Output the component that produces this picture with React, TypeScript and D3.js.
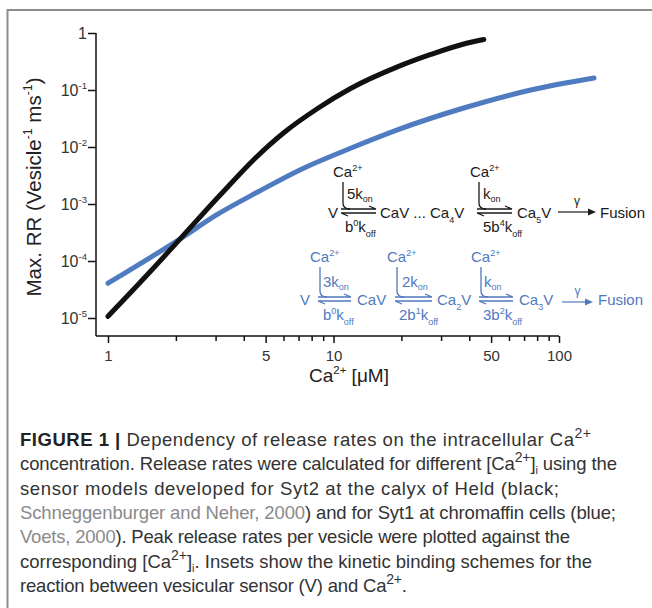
import React, { useRef, useEffect } from 'react';
import * as d3 from 'd3';

const WIDTH = 652;
const HEIGHT = 608;

// Syt2 at the calyx of Held (black)
const blackCa = [1, 1.537, 2.09, 3.15, 4.46, 6.0, 8.5, 11.9, 19.2, 27, 37.8, 46.4];
const blackRR = [1.07e-5, 6.46e-5, 2.45e-4, 1.45e-3, 6.17e-3, 0.0176, 0.0473, 0.106, 0.254, 0.42, 0.641, 0.769];

// Syt1 at chromaffin cells (blue)
const blueCa = [1, 2.09, 3.04, 4.66, 7.13, 11.9, 19.2, 37.8, 75, 143];
const blueRR = [4.07e-5, 2.45e-4, 6.5e-4, 1.66e-3, 4.0e-3, 9.5e-3, 0.02, 0.0483, 0.1, 0.162];

const xMajorTicks = [1, 5, 10, 50, 100];
const xMinorTicks = [2, 3, 4, 6, 7, 8, 9, 20, 30, 40, 60, 70, 80, 90];
const yTicks = [1, 1e-1, 1e-2, 1e-3, 1e-4, 1e-5];

// caption line widths
const captionWidths = [571, 597, 539, 596, 550, 572, 387];

const BLUE = '#4f7bc0';
const BLUE_TEXT = '#5179be';
const FONT = '"Liberation Sans", Arial, Helvetica, sans-serif';

type Part = [string, string?];

// text with sub/superscripts
const rich = (g, x, y, parts: Part[], size, color, anchor = 'start', subShift = 0.3) => {
  const t = g.append('text')
    .attr('x', x)
    .attr('y', y)
    .attr('font-size', size)
    .attr('fill', color)
    .attr('text-anchor', anchor);
  let shift = 0;
  parts.forEach(([s, m]) => {
    const target = m === 'sup' ? -size * 0.42 : m === 'sub' ? size * subShift : 0;
    t.append('tspan')
      .attr('dy', target - shift)
      .attr('font-size', m ? size * 0.6 : size)
      .text(s);
    shift = target;
  });
  return t;
};

// equilibrium arrow with Ca2+ coming in from above
const eqArrow = (g, x0, x1, yy, topY, color) => {
  g.append('path')
    .attr('d', `M${x0 + 2},${topY} L${x0 + 2},${yy - 6} Q${x0 + 2},${yy} ${x0 + 9},${yy}`)
    .attr('fill', 'none').attr('stroke', color).attr('stroke-width', 1.3);
  g.append('path')
    .attr('d', `M${x0},${yy} H${x1} M${x1 - 7},${yy - 3} L${x1},${yy}`)
    .attr('fill', 'none').attr('stroke', color).attr('stroke-width', 1.3);
  g.append('path')
    .attr('d', `M${x1},${yy + 4} H${x0} M${x0 + 7},${yy + 7} L${x0},${yy + 4}`)
    .attr('fill', 'none').attr('stroke', color).attr('stroke-width', 1.3);
};

const gammaArrow = (g, x0, x1, yy, color, size) => {
  g.append('line').attr('x1', x0).attr('x2', x1 - 6).attr('y1', yy).attr('y2', yy)
    .attr('stroke', color).attr('stroke-width', 1.2);
  g.append('path').attr('d', `M${x1},${yy} L${x1 - 8},${yy - 3.5} L${x1 - 8},${yy + 3.5} Z`).attr('fill', color);
  g.append('text').attr('x', (x0 + x1) / 2).attr('y', yy - 7).attr('text-anchor', 'middle')
    .attr('font-size', size).attr('fill', color).text('γ');
};

const ReleaseRateChart = () => {
  const svgRef = useRef(null);

  useEffect(() => {
    const svg = d3.select(svgRef.current);
    svg.selectAll('*').remove();
    svg.attr('font-family', FONT);

    // frame
    svg.append('path')
      .attr('d', `M7.5,${HEIGHT} V10 H${WIDTH}`)
      .attr('fill', 'none')
      .attr('stroke', '#8c8c8c')
      .attr('stroke-width', 2);

    const x = d3.scaleLog().domain([1, 100]).range([108, 559]);
    const y = d3.scaleLog().domain([1e-5, 1]).range([318, 33]);
    const axisY = 336;
    const axisX = 96;

    // axis lines
    svg.append('line').attr('x1', axisX).attr('x2', x(100)).attr('y1', axisY).attr('y2', axisY)
      .attr('stroke', '#111').attr('stroke-width', 1.5);
    svg.append('line').attr('x1', axisX).attr('x2', axisX).attr('y1', y(1)).attr('y2', axisY)
      .attr('stroke', '#111').attr('stroke-width', 1.5);

    // x axis
    const gxMinor = svg.append('g').attr('transform', `translate(0,${axisY})`)
      .call(d3.axisBottom(x).tickValues(xMinorTicks).tickSize(5).tickFormat(() => ''));
    const gx = svg.append('g').attr('transform', `translate(0,${axisY})`)
      .call(d3.axisBottom(x).tickValues(xMajorTicks).tickSize(7).tickFormat(d3.format('d')));
    [gxMinor, gx].forEach(g => {
      g.select('.domain').remove();
      g.selectAll('line').attr('stroke', '#111').attr('stroke-width', 1.5);
    });
    gx.selectAll('text')
      .attr('font-family', FONT)
      .attr('font-size', 15)
      .attr('fill', '#333')
      .attr('dy', null)
      .attr('y', 25);

    // y axis
    const gy = svg.append('g').attr('transform', `translate(${axisX},0)`)
      .call(d3.axisLeft(y).tickValues(yTicks).tickSize(8).tickFormat(() => ''));
    gy.select('.domain').remove();
    gy.selectAll('line').attr('stroke', '#111').attr('stroke-width', 1.5);
    yTicks.forEach(v => {
      const e = Math.round(Math.log10(v));
      const parts: Part[] = e === 0 ? [['1']] : [['10'], [String(e), 'sup']];
      rich(svg, 87, y(v) + 5.5, parts, 16, '#333', 'end');
    });

    // axis titles
    rich(svg, 349, 382, [['Ca'], ['2+', 'sup'], [' [μM]']], 19, '#222', 'middle');
    rich(svg, 0, 0, [['Max. RR (Vesicle'], ['-1', 'sup'], [' ms'], ['-1', 'sup'], [')']], 20.5, '#222', 'middle')
      .attr('transform', `translate(41,187) rotate(-90)`);

    // curves
    const line = d3.line<[number, number]>()
      .x(d => x(d[0]))
      .y(d => y(d[1]))
      .curve(d3.curveMonotoneX);

    svg.append('path')
      .datum(blueCa.map((c, i) => [c, blueRR[i]] as [number, number]))
      .attr('fill', 'none')
      .attr('stroke', BLUE)
      .attr('stroke-width', 5)
      .attr('stroke-linecap', 'round')
      .attr('d', line);

    svg.append('path')
      .datum(blackCa.map((c, i) => [c, blackRR[i]] as [number, number]))
      .attr('fill', 'none')
      .attr('stroke', '#111')
      .attr('stroke-width', 5)
      .attr('stroke-linecap', 'round')
      .attr('d', line);

    // black kinetic scheme (Syt2)
    const k = svg.append('g');
    const kc = '#1a1a1a';
    rich(k, 333, 177, [['Ca'], ['2+', 'sup']], 15, kc);
    eqArrow(k, 341, 376, 209, 182, kc);
    rich(k, 347, 199, [['5k'], ['on', 'sub']], 15, kc, 'start', 0.2);
    rich(k, 345, 232, [['b'], ['0', 'sup'], ['k'], ['off', 'sub']], 15, kc);
    rich(k, 328, 218, [['V']], 15, kc);
    rich(k, 380, 218, [['CaV ... Ca'], ['4', 'sub'], ['V']], 15, kc);
    rich(k, 470, 177, [['Ca'], ['2+', 'sup']], 15, kc);
    eqArrow(k, 477, 512, 209, 182, kc);
    rich(k, 483, 199, [['k'], ['on', 'sub']], 15, kc, 'start', 0.2);
    rich(k, 483, 232, [['5b'], ['4', 'sup'], ['k'], ['off', 'sub']], 15, kc);
    rich(k, 517, 218, [['Ca'], ['5', 'sub'], ['V']], 15, kc);
    gammaArrow(k, 558, 596, 212, kc, 12);
    rich(k, 600, 218, [['Fusion']], 15, kc);

    // blue kinetic scheme (Syt1)
    const b = svg.append('g');
    rich(b, 310, 262, [['Ca'], ['2+', 'sup']], 15, BLUE_TEXT);
    eqArrow(b, 318, 351, 297, 267, BLUE_TEXT);
    rich(b, 323, 287, [['3k'], ['on', 'sub']], 15, BLUE_TEXT, 'start', 0.2);
    rich(b, 323, 320, [['b'], ['0', 'sup'], ['k'], ['off', 'sub']], 15, BLUE_TEXT);
    rich(b, 300, 305, [['V']], 15, BLUE_TEXT);
    rich(b, 357, 305, [['CaV']], 15, BLUE_TEXT);
    rich(b, 387, 262, [['Ca'], ['2+', 'sup']], 15, BLUE_TEXT);
    eqArrow(b, 395, 432, 297, 267, BLUE_TEXT);
    rich(b, 402, 287, [['2k'], ['on', 'sub']], 15, BLUE_TEXT, 'start', 0.2);
    rich(b, 399, 320, [['2b'], ['1', 'sup'], ['k'], ['off', 'sub']], 15, BLUE_TEXT);
    rich(b, 437, 305, [['Ca'], ['2', 'sub'], ['V']], 15, BLUE_TEXT);
    rich(b, 471, 262, [['Ca'], ['2+', 'sup']], 15, BLUE_TEXT);
    eqArrow(b, 479, 513, 297, 267, BLUE_TEXT);
    rich(b, 484, 287, [['k'], ['on', 'sub']], 15, BLUE_TEXT, 'start', 0.2);
    rich(b, 483, 320, [['3b'], ['2', 'sup'], ['k'], ['off', 'sub']], 15, BLUE_TEXT);
    rich(b, 519, 305, [['Ca'], ['3', 'sub'], ['V']], 15, BLUE_TEXT);
    gammaArrow(b, 562, 593, 302, BLUE_TEXT, 12);
    rich(b, 598, 305, [['Fusion']], 15, BLUE_TEXT);

    // caption
    const cap = svg.append('g').attr('font-size', 18.5).attr('fill', '#333');
    let lineNo = 0;
    const capLine = (yy, build) => {
      const t = cap.append('text')
        .attr('x', 20)
        .attr('y', yy)
        .attr('textLength', captionWidths[lineNo])
        .attr('lengthAdjust', 'spacing');
      lineNo += 1;
      build(t);
    };
    const span = (t, s, opts: any = {}) => {
      const ts = t.append('tspan').text(s);
      if (opts.bold) ts.attr('font-weight', 'bold').attr('fill', '#222');
      if (opts.gray) ts.attr('fill', '#8a8a8a');
      if (opts.sup) ts.attr('font-size', 14).attr('dy', -8);
      if (opts.sub) ts.attr('font-size', 11).attr('dy', opts.dy);
      if (opts.dy !== undefined && !opts.sub) ts.attr('dy', opts.dy);
      return ts;
    };
    capLine(446, t => {
      span(t, 'FIGURE 1 |', { bold: true });
      span(t, ' Dependency of release rates on the intracellular Ca');
      span(t, '2+', { sup: true });
    });
    capLine(470, t => {
      span(t, 'concentration. Release rates were calculated for different [Ca');
      span(t, '2+', { sup: true });
      span(t, ']', { dy: 8 });
      span(t, 'i', { sub: true, dy: 4 });
      span(t, ' using the', { dy: -4 });
    });
    capLine(495, t => {
      span(t, 'sensor models developed for Syt2 at the calyx of Held (black;');
    });
    capLine(519, t => {
      span(t, 'Schneggenburger and Neher, 2000', { gray: true });
      span(t, ') and for Syt1 at chromaffin cells (blue;');
    });
    capLine(543, t => {
      span(t, 'Voets, 2000', { gray: true });
      span(t, '). Peak release rates per vesicle were plotted against the');
    });
    capLine(568, t => {
      span(t, 'corresponding [Ca');
      span(t, '2+', { sup: true });
      span(t, ']', { dy: 8 });
      span(t, 'i', { sub: true, dy: 4 });
      span(t, '. Insets show the kinetic binding schemes for the', { dy: -4 });
    });
    capLine(592, t => {
      span(t, 'reaction between vesicular sensor (V) and Ca');
      span(t, '2+', { sup: true });
      span(t, '.', { dy: 8 });
    });
  }, []);

  return (
    <svg
      ref={svgRef}
      width={WIDTH}
      height={HEIGHT}
      style={{ position: 'absolute', left: 0, top: 0, background: '#fff' }}
    />
  );
};

export default function App() {
  return <ReleaseRateChart />;
}
